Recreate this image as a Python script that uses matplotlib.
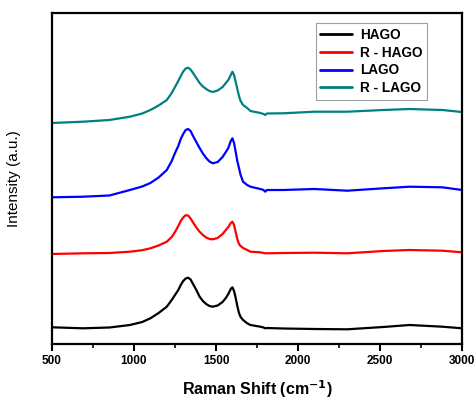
import numpy as np
import matplotlib
matplotlib.use("Agg")
import matplotlib.pyplot as plt

plt.rcParams['font.family'] = ['Liberation Sans', 'DejaVu Sans']

# Raman shift grid (cm^-1)
shift = [500, 690, 850, 975, 1050, 1100, 1150, 1200, 1230, 1250, 1270, 1285, 1300,
         1315, 1330, 1345, 1360, 1380, 1400, 1420, 1440, 1460, 1480, 1510,
         1540, 1560, 1575, 1590, 1600, 1610, 1620, 1630, 1640, 1650, 1665,
         1690, 1710, 1770, 1790, 1800, 1810, 1910, 2100, 2300, 2520, 2680,
         2880, 3000]

# stacked intensities (a.u., offsets already included)
hago = [16.7, 15.7, 16.5, 19, 22, 25.7, 31, 37.3, 44, 49, 54, 59, 63, 65.5, 66.3,
        64.5, 60, 54, 47.3, 43, 40, 38, 37.3, 38.5, 42, 46, 50, 55, 56.7, 53,
        46, 38, 31, 27, 24, 20.7, 19, 17.3, 16.5, 15.7, 16, 15.5, 15, 14.7,
        17, 19, 17.3, 15.7]
r_hago = [90, 90.7, 91, 92.3, 93.8, 95.7, 98.5, 102.3, 107, 112, 118, 123, 126.5,
          128.8, 128.5, 125.5, 121.5, 116.5, 112.3, 109, 106.5, 105, 104.7,
          106, 110, 114, 117, 121, 122.3, 119, 112, 105, 100, 98, 96, 94,
          92.3, 91.7, 91, 90.7, 90.7, 91, 91.3, 90.7, 93, 94, 93.3, 91.7]
lago = [146.7, 147.3, 148.5, 154, 157.5, 161, 166.5, 174, 183, 191, 198, 205, 210,
        214, 215, 213, 208, 202, 196, 190.5, 186, 182.5, 180.7, 182, 187,
        192, 196, 203, 205.7, 201, 192, 183, 176, 169, 162.3, 159, 157.3,
        155, 154, 152.3, 154, 154, 155, 153.3, 155.7, 157.3, 156.7, 154]
r_lago = [221, 222.3, 224, 227.3, 230.5, 234, 238.5, 244, 251, 257, 263, 268, 272.5,
          275.5, 276.3, 274.5, 271, 266, 261, 257.5, 255, 253, 252, 253.5,
          257, 261, 264, 269, 272.3, 269, 262, 255, 248, 243, 239, 236, 233,
          231, 230, 229, 230.5, 230.7, 232.3, 232.3, 234, 235, 234, 232]

labels = ['HAGO', 'R - HAGO', 'LAGO', 'R - LAGO']
colors = ['black', '#ff0000', '#0000ff', '#008080']

fig = plt.figure(figsize=(4.77, 4.0), dpi=100)
ax = fig.add_axes([0.109, 0.14, 0.8596, 0.8275])

for y, lab, c in zip([hago, r_hago, lago, r_lago], labels, colors):
    ax.plot(shift, y, color=c, lw=1.6, label=lab,
            solid_joinstyle='round', solid_capstyle='round')

ax.set_xlim(500, 3000)
ax.set_ylim(0, 331)
ax.set_xticks(np.arange(500, 3001, 500))
ax.set_xticks(np.arange(750, 3000, 500), minor=True)
ax.set_yticks([])
ax.tick_params(axis='x', which='major', direction='out', length=5, width=1.5, pad=3)
ax.tick_params(axis='x', which='minor', direction='out', length=3, width=1.2)
for lbl in ax.get_xticklabels():
    lbl.set_fontweight('bold')
    lbl.set_fontsize(8.5)
for s in ax.spines.values():
    s.set_linewidth(1.6)

ax.set_xlabel('Raman Shift (cm$^{\\mathbf{-1}}$)', fontsize=11.5, fontweight='bold', labelpad=8)
ax.set_ylabel('Intensity (a.u.)', fontsize=11, labelpad=22)

leg = ax.legend(loc='upper right', bbox_to_anchor=(0.915, 0.97),
                prop={'weight': 'bold', 'size': 9.8}, fancybox=False, framealpha=1,
                handlelength=2.3, handletextpad=0.6, labelspacing=0.28,
                borderpad=0.35, borderaxespad=0)
leg.get_frame().set_edgecolor('#a0a0a0')
leg.get_frame().set_linewidth(0.8)
for h in leg.get_lines():
    h.set_linewidth(2.0)

fig.savefig('out.png', dpi=100)
